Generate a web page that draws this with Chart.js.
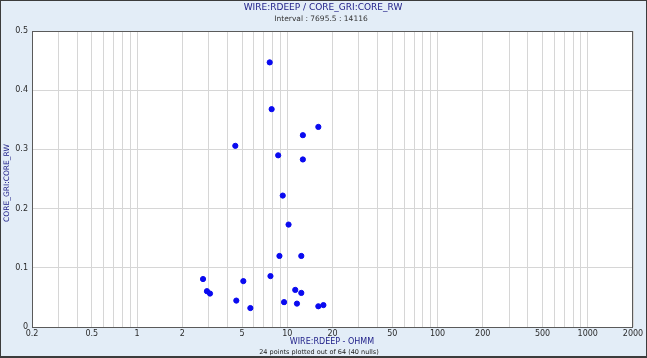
<!DOCTYPE html>
<html>
<head>
<meta charset="utf-8">
<script src="https://cdn.jsdelivr.net/npm/chart.js@4.4.0/dist/chart.umd.min.js"></script>
<style>
  html, body { margin: 0; padding: 0; background: #e3edf7; }
  #wrap { width: 647px; height: 358px; }
</style>
</head>
<body>
<div id="wrap"><canvas id="myChart" width="647" height="358"></canvas></div>
<script>
// crossplot data: deep resistivity (ohmm) vs core Rw
const rdeep = [7.64, 7.87, 16.1, 12.7, 4.51, 8.7, 12.7, 9.33, 10.2, 8.87, 12.4, 2.75,
               5.1, 7.73, 2.92, 3.06, 11.3, 12.4, 4.58, 5.68, 9.52, 11.6, 16.1, 17.4];
const coreRw = [0.447, 0.368, 0.338, 0.324, 0.306, 0.290, 0.283, 0.222, 0.173, 0.120, 0.120, 0.081,
                0.0775, 0.086, 0.0605, 0.0565, 0.0627, 0.0576, 0.0446, 0.032, 0.042, 0.0395, 0.035, 0.037];

const xLabelTicks = [0.2, 0.5, 1, 2, 5, 10, 20, 50, 100, 200, 500, 1000, 2000];
const yTicks = [0, 0.1, 0.2, 0.3, 0.4, 0.5];

const chartTitle = 'WIRE:RDEEP / CORE_GRI:CORE_RW';
const chartSubtitle = 'Interval : 7695.5 : 14116';
const xTitle = 'WIRE:RDEEP - OHMM';
const yTitle = 'CORE_GRI:CORE_RW';
const footer = '24 points plotted out of 64 (40 nulls)';

// grid lines at every 1..9 multiple in each decade
function logGridValues() {
    const vals = [];
    for (let d = -1; d <= 3; d++) {
        for (let m = 1; m <= 9; m++) {
            const v = +(m * Math.pow(10, d)).toPrecision(6);
            if (v >= 0.2 && v <= 2000) vals.push(v);
        }
    }
    return vals;
}

const framePlugin = {
    id: 'frame',
    beforeDraw(chart) {
        const ctx = chart.ctx;
        const a = chart.chartArea;
        ctx.save();
        ctx.fillStyle = '#3c3c3c';
        ctx.fillRect(0, 0, chart.width, chart.height);
        ctx.fillStyle = '#e3edf7';
        ctx.fillRect(1, 1, chart.width - 2, chart.height - 3);
        ctx.fillStyle = '#ffffff';
        ctx.fillRect(a.left, a.top, a.right - a.left, a.bottom - a.top);
        ctx.restore();
    },
    afterDraw(chart) {
        const ctx = chart.ctx;
        const a = chart.chartArea;
        ctx.save();
        ctx.strokeStyle = '#5a5a5a';
        ctx.lineWidth = 1;
        ctx.strokeRect(a.left + 0.5, a.top + 0.5, a.right - a.left - 1, a.bottom - a.top);

        ctx.textAlign = 'center';
        ctx.textBaseline = 'middle';
        ctx.fillStyle = '#22228a';
        ctx.font = '9px "DejaVu Sans"';
        ctx.fillText(chartTitle, 323, 8);
        ctx.fillStyle = '#333333';
        ctx.font = '7.5px "DejaVu Sans"';
        ctx.fillText(chartSubtitle, 321, 19);

        ctx.fillStyle = '#22228a';
        ctx.font = '8px "DejaVu Sans"';
        ctx.fillText(xTitle, 332, 342);
        ctx.fillStyle = '#222222';
        ctx.font = '6.5px "DejaVu Sans"';
        ctx.fillText(footer, 319, 352);

        ctx.translate(7, 183);
        ctx.rotate(-Math.PI / 2);
        ctx.fillStyle = '#22228a';
        ctx.font = '7.5px "DejaVu Sans"';
        ctx.fillText(yTitle, 0, 0);
        ctx.restore();
    }
};

const ctx = document.getElementById('myChart').getContext('2d');
new Chart(ctx, {
    type: 'scatter',
    data: {
        datasets: [{
            label: 'RDEEP vs CORE_RW',
            data: rdeep.map((x, i) => ({ x: x, y: coreRw[i] })),
            backgroundColor: '#0a0af0',
            borderColor: '#0a0af0',
            pointRadius: 2.6,
            pointHoverRadius: 2.6
        }]
    },
    options: {
        responsive: false,
        animation: false,
        layout: { padding: { left: 0, top: 31, right: 14, bottom: 0 } },
        plugins: {
            legend: { display: false },
            tooltip: { enabled: false }
        },
        scales: {
            x: {
                type: 'logarithmic',
                min: 0.2,
                max: 2000,
                afterBuildTicks: scale => {
                    scale.ticks = logGridValues().map(v => ({ value: v }));
                },
                afterFit: scale => { scale.height = 31; },
                grid: { color: '#d6d6d6', lineWidth: 1, drawTicks: false },
                border: { display: false },
                ticks: {
                    autoSkip: false,
                    maxRotation: 0,
                    minRotation: 0,
                    padding: 2,
                    color: '#2a2a2a',
                    font: { family: 'DejaVu Sans', size: 8 },
                    callback: v => xLabelTicks.some(t => Math.abs(t - v) < 1e-9) ? String(v) : ''
                }
            },
            y: {
                min: 0,
                max: 0.5,
                afterBuildTicks: scale => {
                    scale.ticks = yTicks.map(v => ({ value: v }));
                },
                afterFit: scale => { scale.width = 32; },
                grid: { color: '#d6d6d6', lineWidth: 1, drawTicks: false },
                border: { display: false },
                ticks: {
                    padding: 4,
                    color: '#2a2a2a',
                    font: { family: 'DejaVu Sans', size: 8 },
                    callback: v => v === 0 ? '0' : v.toFixed(1)
                }
            }
        }
    },
    plugins: [framePlugin]
});
</script>
</body>
</html>
